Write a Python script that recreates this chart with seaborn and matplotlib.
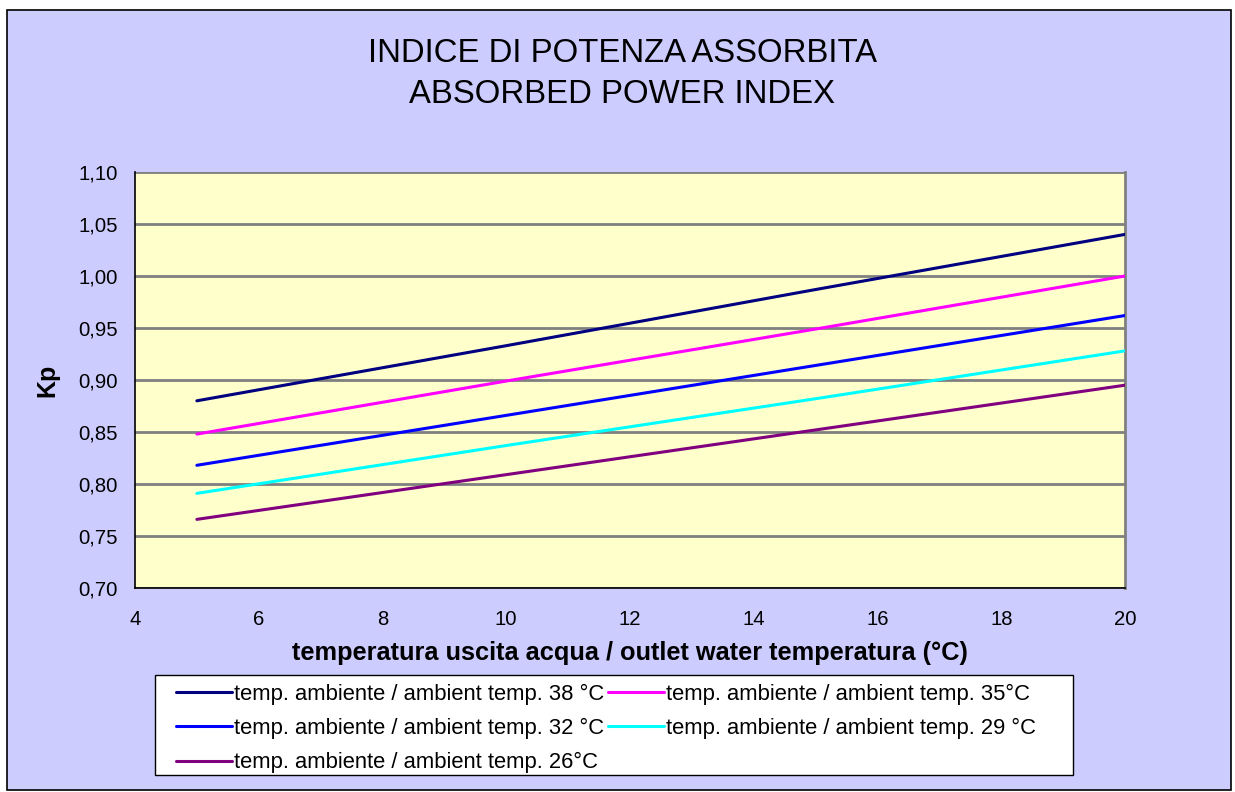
import matplotlib
matplotlib.use("Agg")
from matplotlib import pyplot as plt
from matplotlib.patches import Rectangle
from matplotlib.ticker import FuncFormatter, MultipleLocator
import seaborn as sns
import pandas as pd

# outlet water temperature (°C) and Kp
water_temp = [5, 10, 15, 20]
kp_38 = [0.880, 0.933, 0.987, 1.040]
kp_35 = [0.848, 0.899, 0.949, 1.000]
kp_32 = [0.818, 0.866, 0.914, 0.962]
kp_29 = [0.791, 0.837, 0.882, 0.928]
kp_26 = [0.766, 0.809, 0.852, 0.895]

series_names = [
    "temp. ambiente / ambient temp. 38 °C",
    "temp. ambiente / ambient temp. 35°C",
    "temp. ambiente / ambient temp. 32 °C",
    "temp. ambiente / ambient temp. 29 °C",
    "temp. ambiente / ambient temp. 26°C",
]
series_values = [kp_38, kp_35, kp_32, kp_29, kp_26]
series_colors = ["#000080", "#FF00FF", "#0000FF", "#00FFFF", "#800080"]

rows = []
for name, vals in zip(series_names, series_values):
    for t, v in zip(water_temp, vals):
        rows.append({"temp": t, "kp": v, "serie": name})
df = pd.DataFrame(rows)

sns.set_style("white")
plt.rcParams["font.family"] = ["Liberation Sans", "DejaVu Sans"]
plt.rcParams["text.color"] = "black"
plt.rcParams["axes.labelcolor"] = "black"
plt.rcParams["xtick.color"] = "black"
plt.rcParams["ytick.color"] = "black"

W, H = 1235, 792
fig = plt.figure(figsize=(W / 100, H / 100), dpi=100)
fig.patch.set_facecolor("white")

# outer chart area with border
fig.patches.append(Rectangle((7 / W, 1 - 790 / H), 1224 / W, 780 / H, transform=fig.transFigure,
                             facecolor="#CCCCFF", edgecolor="black", linewidth=1.2, zorder=-5))

ax = fig.add_axes([135 / W, 1 - 588 / H, 990 / W, 416 / H])
ax.set_facecolor("#FFFFCC")

sns.lineplot(data=df, x="temp", y="kp", hue="serie", palette=dict(zip(series_names, series_colors)),
             hue_order=series_names, linewidth=2.2, ax=ax, legend=False, zorder=3)

ax.set_xlim(4, 20)
ax.set_ylim(0.70, 1.10)
ax.xaxis.set_major_locator(MultipleLocator(2))
ax.yaxis.set_major_locator(MultipleLocator(0.05))
ax.yaxis.set_major_formatter(FuncFormatter(lambda v, p: f"{v:.2f}".replace(".", ",")))
ax.grid(axis="y", color="#808080", linewidth=2)
ax.set_axisbelow(True)
ax.tick_params(axis="both", direction="out", length=4.3, width=1, color="black", labelsize=14.6)
ax.tick_params(axis="y", pad=8)
ax.tick_params(axis="x", pad=11.5)

for side in ["left", "bottom"]:
    ax.spines[side].set_color("black")
    ax.spines[side].set_linewidth(1.2)
ax.spines["right"].set_color("#808080")
ax.spines["right"].set_linewidth(2)
ax.spines["top"].set_visible(False)

ax.set_xlabel("temperatura uscita acqua / outlet water temperatura (°C)", fontsize=18.3, fontweight="bold")
ax.xaxis.set_label_coords(0.5, (588 - 653) / 416)
ax.xaxis.label.set_va("center")
ax.set_ylabel("Kp", fontsize=18, fontweight="bold")
ax.yaxis.set_label_coords((47 - 135) / 990, 0.5)
ax.yaxis.label.set_va("center")

fig.text(622 / W, 1 - 74 / H, "INDICE DI POTENZA ASSORBITA\nABSORBED POWER INDEX", ha="center", va="center",
         fontsize=23.7, linespacing=1.45)

# legend box drawn separately so the entries can sit indented like the original
fig.patches.append(Rectangle((155 / W, 1 - 775 / H), 918 / W, 100 / H, transform=fig.transFigure,
                             facecolor="white", edgecolor="black", linewidth=1, zorder=1))

# legend filled row by row: 38, 35 / 32, 29 / 26
order = [0, 2, 4, 1, 3]
handles = [plt.Line2D([], [], color=series_colors[i], linewidth=2.2) for i in order]
labels = [series_names[i] for i in order]
leg = fig.legend(handles, labels, ncol=2, loc="center left", bbox_to_anchor=(176 / W, 1 - 728.5 / H),
                 fontsize=15.8, frameon=False, handlelength=2.55, handletextpad=0.08, columnspacing=0.2,
                 labelspacing=0.6, borderpad=0, borderaxespad=0)
leg.set_zorder(2)

fig.savefig("out.png", dpi=100)
